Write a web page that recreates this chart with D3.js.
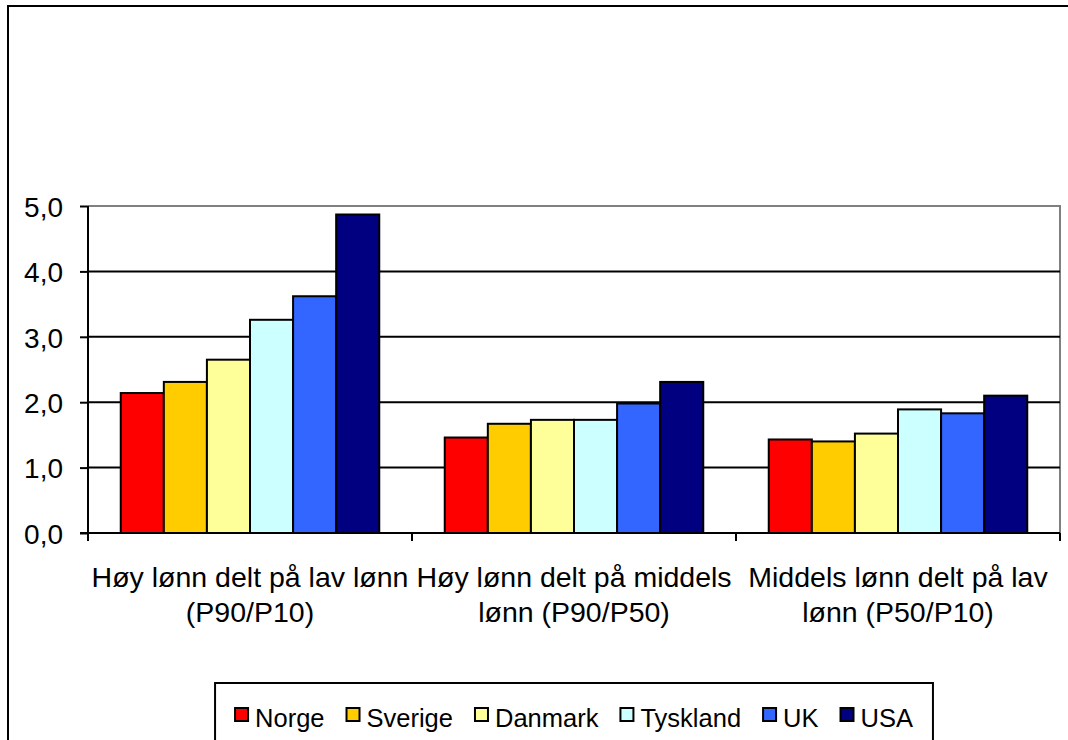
<!DOCTYPE html>
<html>
<head>
<meta charset="utf-8">
<script src="https://cdn.jsdelivr.net/npm/d3@7"></script>
<style>
  body { margin: 0; background: #fff; }
  svg { display: block; font-family: "Liberation Sans", Arial, sans-serif; }
</style>
</head>
<body>
<svg id="chart"></svg>
<script>
var categories = [
    ["Høy lønn delt på lav lønn", "(P90/P10)"],
    ["Høy lønn delt på middels", "lønn (P90/P50)"],
    ["Middels lønn delt på lav", "lønn (P50/P10)"]
]
var countries = ["Norge", "Sverige", "Danmark", "Tyskland", "UK", "USA"]
var colors = ["#FF0000", "#FFCC00", "#FFFF99", "#CCFFFF", "#3366FF", "#000080"]
var norge = [2.14, 1.46, 1.43]
var sverige = [2.31, 1.67, 1.40]
var danmark = [2.65, 1.73, 1.52]
var tyskland = [3.26, 1.73, 1.89]
var uk = [3.62, 1.98, 1.83]
var usa = [4.87, 2.31, 2.10]
var yTicks = [0, 1, 2, 3, 4, 5]

var series = [norge, sverige, danmark, tyskland, uk, usa]

var dimensions = {
    width: 1068,
    height: 740,
    margin: { top: 206, bottom: 207, right: 8, left: 88 }
}

var svg = d3.select("#chart")
    .attr("width", dimensions.width)
    .attr("height", dimensions.height)

var plotBottom = dimensions.height - dimensions.margin.bottom
var plotRight = dimensions.width - dimensions.margin.right

// outer chart border (runs off the right and bottom)
svg.append("rect")
    .attr("x", 8).attr("y", 6)
    .attr("width", 1200).attr("height", 900)
    .attr("fill", "none")
    .attr("stroke", "#000")
    .attr("stroke-width", 2)

var catIndex = categories.map((d, i) => i)

var xScale = d3.scaleBand()
    .domain(catIndex)
    .range([dimensions.margin.left, plotRight])
    .padding(0)

var xInner = d3.scaleBand()
    .domain(countries)
    .range([0, xScale.bandwidth()])
    .paddingInner(0)
    .paddingOuter(0.76)

var yScale = d3.scaleLinear()
    .domain([0, 5])
    .range([plotBottom, dimensions.margin.top])

// plot area border (grey top and right)
svg.append("path")
    .attr("d", `M${dimensions.margin.left},${yScale(5)}H${plotRight}V${plotBottom}`)
    .attr("fill", "none")
    .attr("stroke", "#808080")
    .attr("stroke-width", 2)

// gridlines
svg.append("g")
    .selectAll("line")
    .data(yTicks.filter(d => d > 0 && d < 5))
    .enter()
    .append("line")
    .attr("x1", dimensions.margin.left)
    .attr("x2", plotRight)
    .attr("y1", d => yScale(d))
    .attr("y2", d => yScale(d))
    .attr("stroke", "#000")
    .attr("stroke-width", 2)

// bars
var groups = svg.append("g")
    .selectAll("g")
    .data(catIndex)
    .enter()
    .append("g")
    .attr("transform", d => `translate(${xScale(d)},0)`)

groups.selectAll("rect")
    .data(ci => countries.map((c, si) => ({ country: c, value: series[si][ci], color: colors[si] })))
    .enter()
    .append("rect")
    .attr("x", d => xInner(d.country))
    .attr("y", d => yScale(d.value))
    .attr("width", xInner.bandwidth())
    .attr("height", d => plotBottom - yScale(d.value))
    .attr("fill", d => d.color)
    .attr("stroke", "#000")
    .attr("stroke-width", 2)

// y axis
var yAxisgen = d3.axisLeft(yScale)
    .tickValues(yTicks)
    .tickSize(8)
    .tickPadding(17)
    .tickFormat(d => d3.format(".1f")(d).replace(".", ","))

var yAxis = svg.append("g")
    .attr("transform", `translate(${dimensions.margin.left},0)`)
    .call(yAxisgen)
yAxis.select(".domain").remove()
yAxis.selectAll("line").attr("stroke", "#000").attr("stroke-width", 2)
yAxis.selectAll("text")
    .attr("fill", "#000")
    .attr("dy", "0.37em")
    .style("font-size", "28px")
    .style("font-family", "Liberation Sans, Arial, sans-serif")

svg.append("line")
    .attr("x1", dimensions.margin.left).attr("x2", dimensions.margin.left)
    .attr("y1", yScale(5)).attr("y2", plotBottom + 8)
    .attr("stroke", "#000").attr("stroke-width", 2)

// x axis line and category ticks
svg.append("line")
    .attr("x1", dimensions.margin.left - 8).attr("x2", plotRight)
    .attr("y1", plotBottom).attr("y2", plotBottom)
    .attr("stroke", "#000").attr("stroke-width", 2)

svg.append("g")
    .selectAll("line")
    .data(catIndex.slice(1).concat([categories.length]))
    .enter()
    .append("line")
    .attr("x1", d => d < categories.length ? xScale(d) : plotRight)
    .attr("x2", d => d < categories.length ? xScale(d) : plotRight)
    .attr("y1", plotBottom)
    .attr("y2", plotBottom + 8)
    .attr("stroke", "#000").attr("stroke-width", 2)

// category labels
var catLabels = svg.append("g")
    .selectAll("text")
    .data(catIndex)
    .enter()
    .append("text")
    .attr("text-anchor", "middle")
    .attr("fill", "#000")
    .style("font-size", "28.5px")

catLabels.each(function(ci) {
    var t = d3.select(this)
    categories[ci].forEach((line, li) => {
        t.append("tspan")
            .attr("x", xScale(ci) + xScale.bandwidth() / 2)
            .attr("y", 587 + li * 34.5)
            .text(line)
    })
})

// legend
var legend = svg.append("g")
var legendBox = legend.append("rect")
    .attr("fill", "#fff")
    .attr("stroke", "#000")
    .attr("stroke-width", 2)

var items = legend.selectAll("g")
    .data(countries)
    .enter()
    .append("g")

items.append("rect")
    .attr("width", 13)
    .attr("height", 13)
    .attr("y", 708)
    .attr("fill", (d, i) => colors[i])
    .attr("stroke", "#000")
    .attr("stroke-width", 2)

items.append("text")
    .attr("x", 20)
    .attr("y", 727)
    .attr("fill", "#000")
    .style("font-size", "25.5px")
    .text(d => d)

var widths = []
items.select("text").each(function() { widths.push(this.getComputedTextLength()) })
var gap = 22
var total = d3.sum(widths) + widths.length * 20 + (widths.length - 1) * gap
var cx = (dimensions.margin.left + plotRight) / 2
var startX = cx - total / 2
var pos = startX
items.attr("transform", (d, i) => {
    var p = pos
    pos += 20 + widths[i] + gap
    return `translate(${p},0)`
})

legendBox
    .attr("x", startX - 20)
    .attr("y", 683)
    .attr("width", total + 40)
    .attr("height", 100)
</script>
</body>
</html>
